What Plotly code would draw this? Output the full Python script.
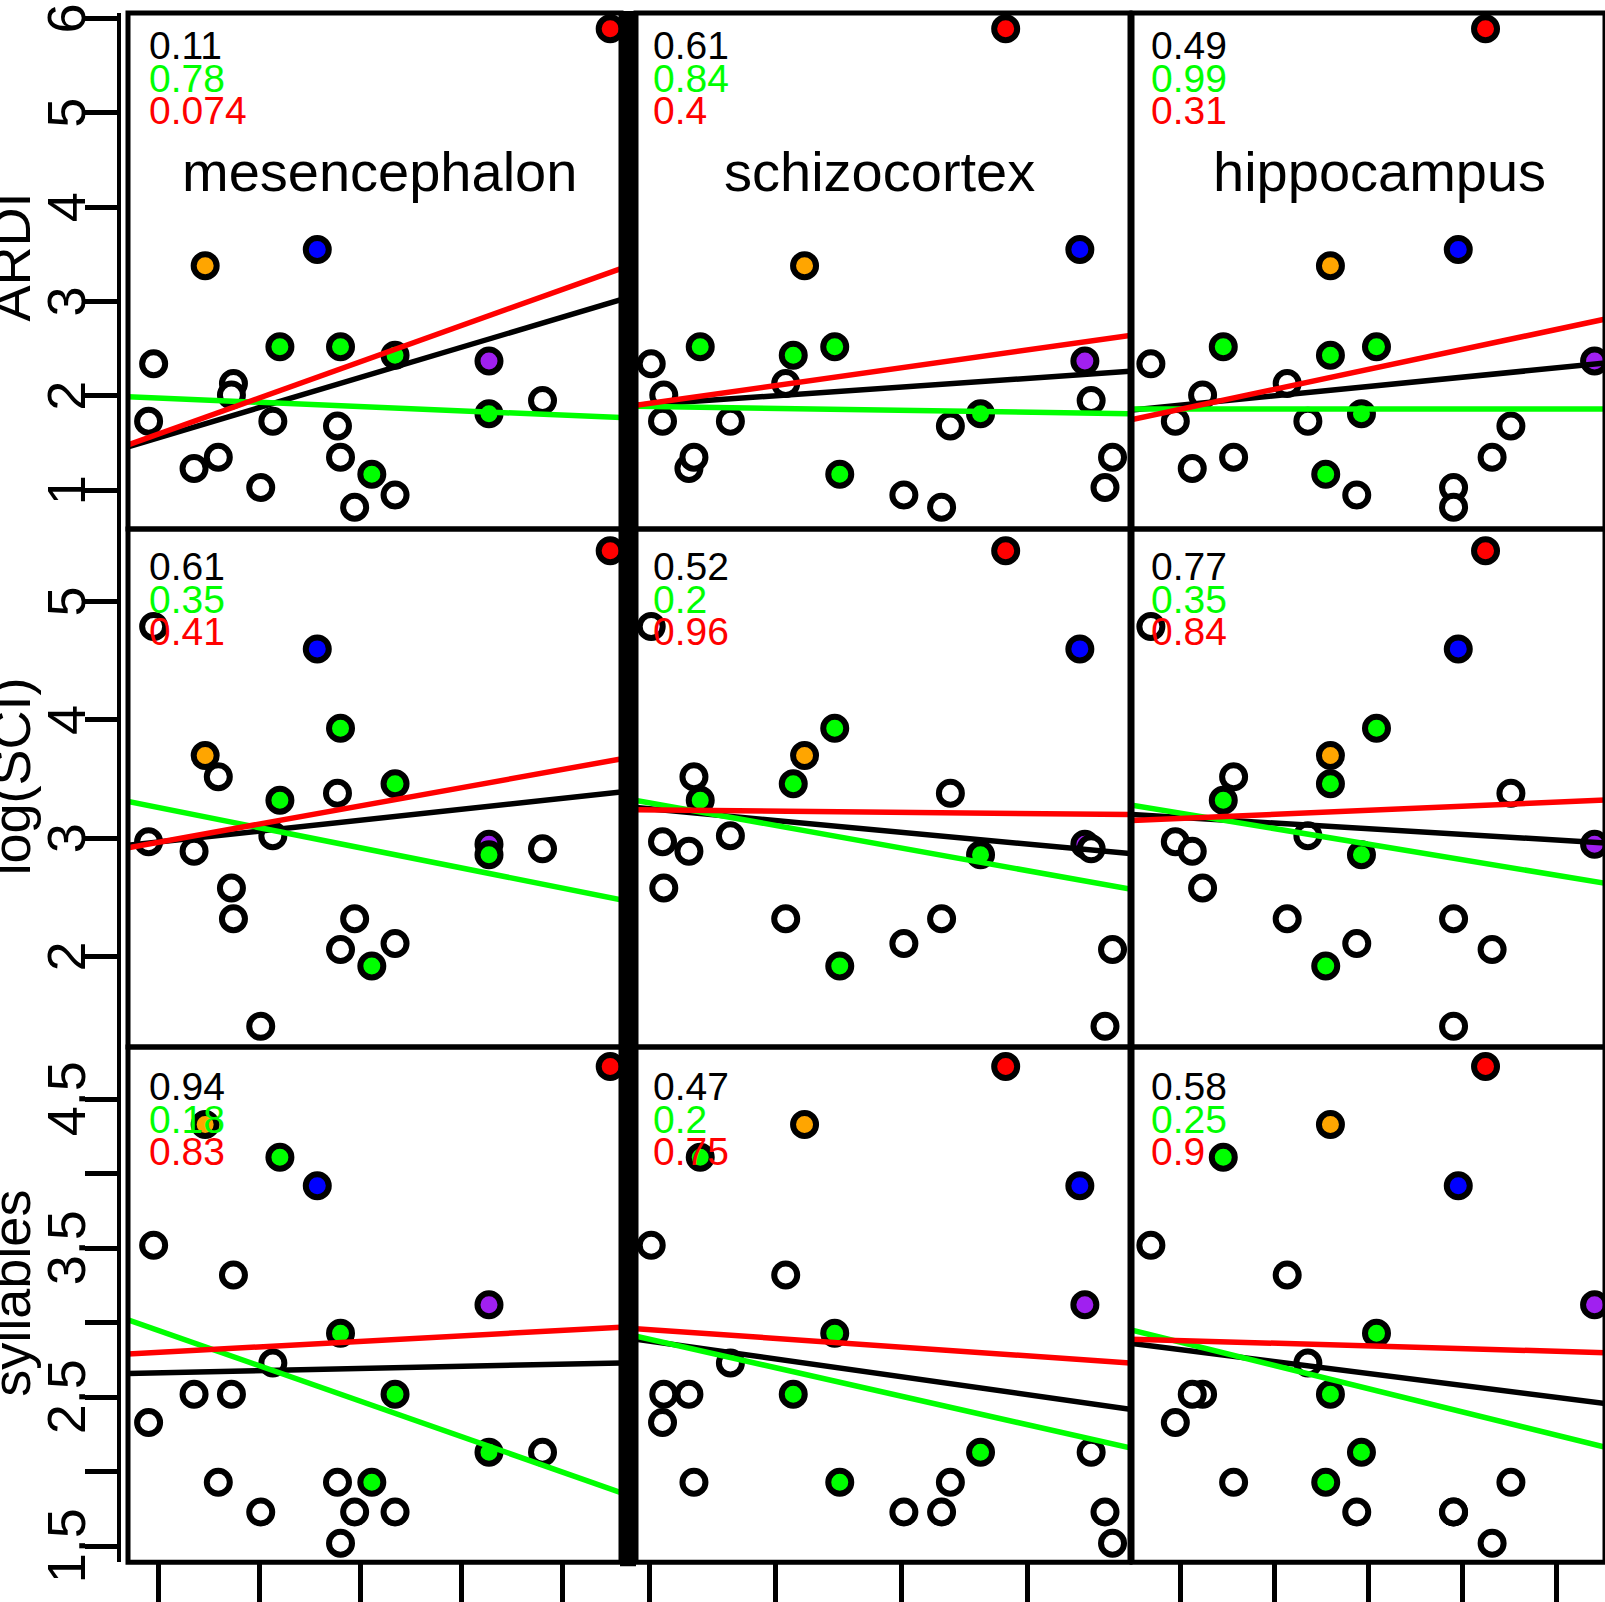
import plotly.graph_objects as go

W, H = 1605, 1602
FONT = "Liberation Sans, Arial, Helvetica, sans-serif"

# ---------------- data (one entry per species) ----------------
group = ["purple",
         "open", "open", "open", "open", "open", "open", "open",
         "open", "open", "open", "open", "open", "open",
         "green", "green", "green", "green", "green",
         "orange", "blue", "red"]
ardi = [2.37,
        2.34, 1.73, 2.13, 2.01, 1.23, 1.35, 1.03,
        1.73, 1.68, 1.35, 0.82, 0.95, 1.95,
        2.52, 2.52, 2.43, 1.81, 1.17,
        3.38, 3.55, 5.89]
log_sci = [2.95,
           4.79, 2.97, 2.32, 2.58, 2.89, 3.52, 1.41,
           3.02, 3.38, 2.06, 2.32, 2.11, 2.91,
           3.32, 3.93, 3.46, 2.86, 1.92,
           3.70, 4.60, 5.43]
syllables = [3.12,
             3.52, 2.33, 3.32, 2.52, 2.52, 1.93, 1.73,
             2.73, 1.93, 1.52, 1.73, 1.73, 2.13,
             4.11, 2.93, 2.52, 2.13, 1.93,
             4.33, 3.92, 4.72]
mesencephalon = [4.27,
                 0.95, 0.90, 1.74, 1.72, 1.35, 1.59, 2.01,
                 2.13, 2.77, 2.80, 2.94, 3.34, 4.80,
                 2.20, 2.80, 3.34, 4.27, 3.11,
                 1.46, 2.57, 5.47]
schizocortex = [4.46,
                1.01, 1.10, 2.08, 1.11, 1.31, 1.35, 4.62,
                1.64, 3.39, 4.68, 3.32, 3.02, 4.51,
                1.40, 2.47, 2.14, 3.63, 2.51,
                2.23, 4.42, 3.83]
hippocampus = [5.41,
               0.69, 0.95, 2.14, 1.24, 1.13, 1.57, 3.91,
               2.36, 4.52, 4.32, 3.91, 2.88, 5.57,
               1.46, 3.09, 2.60, 2.93, 2.55,
               2.60, 3.96, 4.25]

row_names = ["ARDI", "log(SCI)", "syllables"]
col_names = ["mesencephalon", "schizocortex", "hippocampus"]

# fitted lines: y at left and right limit of each panel  [row][col] -> (left, right)
fit_black = [[(1.46, 3.02), (1.90, 2.26), (1.85, 2.37)],
             [(2.94, 3.39), (3.26, 2.87), (3.20, 2.95)],
             [(2.66, 2.73), (2.89, 2.42), (2.86, 2.44)]]
fit_green = [[(1.99, 1.77), (1.89, 1.81), (1.86, 1.86)],
             [(3.31, 2.48), (3.32, 2.57), (3.28, 2.59)],
             [(3.02, 1.86), (2.91, 2.16), (2.95, 2.13)]]
fit_red = [[(1.48, 3.35), (1.90, 2.64), (1.75, 2.86)],
           [(2.92, 3.67), (3.24, 3.20), (3.15, 3.33)],
           [(2.79, 2.97), (2.96, 2.73), (2.89, 2.795)]]

# p-values printed in each panel [row][col]
p_black = [[0.11, 0.61, 0.49], [0.61, 0.52, 0.77], [0.94, 0.47, 0.58]]
p_green = [[0.78, 0.84, 0.99], [0.35, 0.2, 0.35], [0.18, 0.2, 0.25]]
p_red = [[0.074, 0.4, 0.31], [0.41, 0.96, 0.84], [0.83, 0.75, 0.9]]

# axes
x_limits = [(0.696, 5.577), (0.889, 4.819), (0.489, 5.744)]   # full data extent of each column
x_visible = [(0.696, 5.577), (0.889, 4.819), (0.489, 5.521)]  # part that is in the picture
y_limits = [(0.589, 6.058), (1.235, 5.613), (1.393, 4.850)]
x_ticks = [[1, 2, 3, 4, 5], [1, 2, 3, 4], [1, 2, 3, 4, 5]]
y_ticks = [[1, 2, 3, 4, 5, 6], [2, 3, 4, 5], [1.5, 2, 2.5, 3, 3.5, 4, 4.5]]
y_ticklabels = [["1", "2", "3", "4", "5", "6"], ["2", "3", "4", "5"],
                ["1.5", "", "2.5", "", "3.5", "", "4.5"]]

fill_map = {"open": "white", "green": "#00FF00", "orange": "#FFA500",
            "blue": "#0000FF", "red": "#FF0000", "purple": "#A020F0"}

# ---------------- layout geometry (pixels) ----------------
col_px = [(128, 621), (636, 1130), (1132, 1605)]
row_px = [(13, 532), (532, 1053), (1053, 1571)]
axis_x_px = 119
pval_x_px = [147, 651, 1149]
pval_y0_px = [46, 570, 1093]
pval_step = 32.5
title_x_px = [379, 880, 1379]
title_y_px = 172
ylab_y_px = [259, 781, 1301]

def px_x(p):
    return p / W

def px_y(p):
    return 1 - p / H

fig = go.Figure()
layout = dict(width=W, height=H, margin=dict(l=0, r=0, t=0, b=0),
              paper_bgcolor="white", plot_bgcolor="white",
              font=dict(family=FONT, color="black"), showlegend=False)
shapes = []
annotations = []

rows_data = [ardi, log_sci, syllables]
cols_data = [mesencephalon, schizocortex, hippocampus]
fills = [fill_map[g] for g in group]

for r in range(3):
    for c in range(3):
        k = r * 3 + c + 1
        xa = "x" if k == 1 else f"x{k}"
        ya = "y" if k == 1 else f"y{k}"
        xkey = "xaxis" if k == 1 else f"xaxis{k}"
        ykey = "yaxis" if k == 1 else f"yaxis{k}"

        fig.add_trace(go.Scatter(
            x=cols_data[c], y=rows_data[r], mode="markers", xaxis=xa, yaxis=ya,
            marker=dict(size=23, color=fills, line=dict(color="black", width=6)),
            cliponaxis=False, hoverinfo="skip"))
        for fits, colr in ((fit_black, "black"), (fit_green, "#00FF00"), (fit_red, "#FF0000")):
            fig.add_trace(go.Scatter(
                x=list(x_limits[c]), y=list(fits[r][c]), mode="lines", xaxis=xa, yaxis=ya,
                line=dict(color=colr, width=5.5), hoverinfo="skip"))

        layout[xkey] = dict(domain=[px_x(col_px[c][0]), px_x(col_px[c][1])],
                            range=list(x_visible[c]), anchor=ya,
                            showgrid=False, zeroline=False, showline=False,
                            ticks="outside" if r == 2 else "", tickvals=x_ticks[c],
                            ticklen=40, tickwidth=4.5, tickcolor="black",
                            showticklabels=False, fixedrange=True)
        yax = dict(domain=[px_y(row_px[r][1]), px_y(row_px[r][0])],
                   range=list(y_limits[r]), showgrid=False, zeroline=False,
                   showticklabels=False, fixedrange=True)
        if c == 0:
            yax.update(anchor="free", position=px_x(axis_x_px), showline=True,
                       linewidth=4, linecolor="black", ticks="outside",
                       tickvals=y_ticks[r], ticklen=32, tickwidth=4.5, tickcolor="black")
            for v, t in zip(y_ticks[r], y_ticklabels[r]):
                if t:
                    annotations.append(dict(x=px_x(66), xref="paper", y=v, yref=ya,
                                            text=t, textangle=-90, showarrow=False,
                                            xanchor="center", yanchor="middle",
                                            font=dict(size=54, family=FONT, color="black")))
        else:
            yax.update(anchor=xa, showline=False, ticks="")
        layout[ykey] = yax

        # panel frame
        shapes.append(dict(type="rect", xref=f"{xa} domain", yref=f"{ya} domain",
                           x0=0, x1=1, y0=0, y1=1, line=dict(color="black", width=5)))

        # p-values
        for i, (vals, colr) in enumerate(((p_black, "black"), (p_green, "#00FF00"), (p_red, "#FF0000"))):
            annotations.append(dict(x=px_x(pval_x_px[c]), xref="paper",
                                    y=px_y(pval_y0_px[r] + i * pval_step), yref="paper",
                                    text=str(vals[r][c]), showarrow=False,
                                    xanchor="left", yanchor="middle",
                                    font=dict(size=39, family=FONT, color=colr)))

# column titles (top row)
for c in range(3):
    annotations.append(dict(x=px_x(title_x_px[c]), xref="paper", y=px_y(title_y_px), yref="paper",
                            text=col_names[c], showarrow=False, xanchor="center", yanchor="middle",
                            font=dict(size=56, family=FONT, color="black")))
# row titles
for r in range(3):
    annotations.append(dict(x=px_x(11), xref="paper", y=px_y(ylab_y_px[r]), yref="paper",
                            text=row_names[r], textangle=-90, showarrow=False,
                            xanchor="center", yanchor="middle",
                            font=dict(size=54, family=FONT, color="black")))

# heavy separator between first and second column
shapes.append(dict(type="rect", xref="paper", yref="paper",
                   x0=px_x(620), x1=px_x(636), y0=px_y(1575), y1=px_y(11),
                   fillcolor="black", line=dict(width=0)))

layout["shapes"] = shapes
layout["annotations"] = annotations
fig.update_layout(**layout)
fig.write_html("out.html", config={"displayModeBar": False},
               post_script="document.body.style.margin='0';document.body.style.overflow='hidden';")
